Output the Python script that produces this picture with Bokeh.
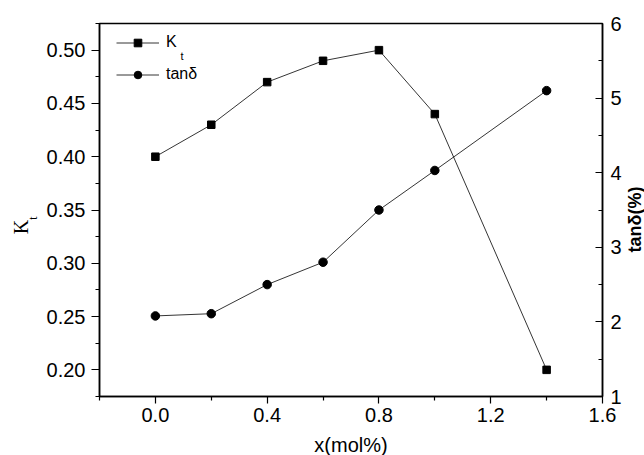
import math
from bokeh.plotting import figure
from bokeh.models import (Range1d, LinearAxis, Label, Legend, LegendItem, FixedTicker,
                          NumeralTickFormatter)
from bokeh.embed import file_html
from bokeh.resources import INLINE

# ---- data ----
x_mol = [0.0, 0.2, 0.4, 0.6, 0.8, 1.0, 1.4]
kt = [0.40, 0.43, 0.47, 0.49, 0.50, 0.44, 0.20]
tan_delta = [2.08, 2.11, 2.50, 2.80, 3.50, 4.03, 5.10]

x_ticks = [0.0, 0.4, 0.8, 1.2, 1.6]
x_minor = [-0.2, 0.2, 0.6, 1.0, 1.4]
kt_ticks = [0.20, 0.25, 0.30, 0.35, 0.40, 0.45, 0.50]
kt_minor = [0.175, 0.225, 0.275, 0.325, 0.375, 0.425, 0.475, 0.525]
tan_ticks = [1, 2, 3, 4, 5, 6]
tan_minor = [1.5, 2.5, 3.5, 4.5, 5.5]

FONT = "Liberation Sans"

p = figure(width=644, height=455, output_backend="svg", toolbar_location=None,
           x_range=Range1d(-0.2, 1.6), y_range=Range1d(0.175, 0.525),
           min_border_left=99, min_border_right=42, min_border_top=23,
           min_border_bottom=59)
p.extra_y_ranges = {"tan": Range1d(1, 6)}
p.xgrid.visible = False
p.ygrid.visible = False
p.outline_line_color = "black"
p.outline_line_width = 1.5
p.background_fill_color = "white"
p.border_fill_color = "white"

xa = p.xaxis[0]
ya = p.yaxis[0]
xa.ticker = FixedTicker(ticks=x_ticks, minor_ticks=x_minor)
ya.ticker = FixedTicker(ticks=kt_ticks, minor_ticks=kt_minor)
xa.formatter = NumeralTickFormatter(format="0.0")
ya.formatter = NumeralTickFormatter(format="0.00")

ra = LinearAxis(y_range_name="tan",
                ticker=FixedTicker(ticks=tan_ticks, minor_ticks=tan_minor),
                formatter=NumeralTickFormatter(format="0"))
p.add_layout(ra, "right")

for ax in (xa, ya, ra):
    ax.axis_line_width = 1.5
    ax.axis_line_color = "black"
    ax.major_tick_line_color = "black"
    ax.minor_tick_line_color = "black"
    ax.major_tick_line_width = 1.2
    ax.minor_tick_line_width = 1.2
    ax.major_label_text_font = FONT
    ax.major_label_text_font_size = "20px"
    ax.major_label_text_color = "black"

xa.major_tick_out = 7
xa.major_tick_in = 0
xa.minor_tick_out = 4
xa.minor_tick_in = 0
xa.major_label_standoff = 4

ya.major_tick_out = 8
ya.major_tick_in = 0
ya.minor_tick_out = 4
ya.minor_tick_in = 0
ya.major_label_standoff = 6

ra.major_tick_out = 0
ra.major_tick_in = 7
ra.minor_tick_out = 0
ra.minor_tick_in = 4
ra.major_label_standoff = 8

# axis titles as labels in the side panels
p.add_layout(Label(text="tanδ(%)", x=10, y=177, x_units="screen", y_units="screen",
                   angle=math.pi / 2, text_font=FONT, text_font_size="18px",
                   text_font_style="bold", text_color="black", text_align="center",
                   text_baseline="alphabetic"), "right")

p.add_layout(Label(text="K", x=-1, y=169.5, x_units="screen", y_units="screen",
                   angle=math.pi / 2, text_font="Liberation Serif", text_font_size="20px",
                   text_color="black", text_align="center",
                   text_baseline="alphabetic"), "left")
p.add_layout(Label(text="t", x=25, y=178.5, x_units="screen", y_units="screen",
                   angle=math.pi / 2, text_font="Liberation Serif", text_font_size="12px",
                   text_color="black", text_align="center",
                   text_baseline="alphabetic"), "left")

p.add_layout(Label(text="x(mol%)", x=251.5, y=2, x_units="screen", y_units="screen",
                   text_font=FONT, text_font_size="20px", text_color="black",
                   text_align="center", text_baseline="alphabetic"), "below")

# ---- glyphs ----
r1l = p.line(x_mol, kt, line_color="black", line_width=0.8)
r1m = p.scatter(x_mol, kt, marker="square", size=7.5, color="black")
r2l = p.line(x_mol, tan_delta, y_range_name="tan", line_color="black", line_width=0.8)
r2m = p.scatter(x_mol, tan_delta, y_range_name="tan", marker="circle", size=8.5,
                color="black")

legend = Legend(items=[LegendItem(label="K", renderers=[r1l, r1m]),
                       LegendItem(label="tanδ", renderers=[r2l, r2m])],
                location=(17, 308), orientation="vertical", padding=0, margin=0,
                spacing=4, glyph_width=43, glyph_height=19, label_height=28,
                label_standoff=7, label_text_font=FONT, label_text_font_size="16px",
                label_text_color="black", label_text_font_style="normal",
                border_line_alpha=0, background_fill_alpha=0)
p.add_layout(legend)

# subscript of K in legend
p.add_layout(Label(text="t", x=81, y=341, x_units="screen", y_units="screen",
                   text_font=FONT, text_font_size="11px", text_color="black",
                   text_align="left", text_baseline="alphabetic"))

open("out.html", "w").write(file_html(p, INLINE))
